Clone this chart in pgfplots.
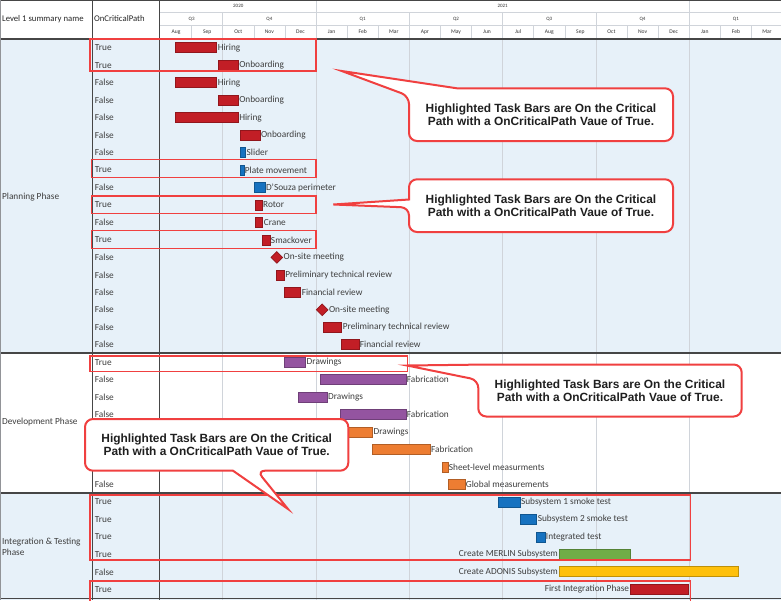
\documentclass[border=0pt]{standalone}
\usepackage{pgfplots}
\pgfplotsset{compat=1.18}
\usepackage{pgfplotstable}
\usepackage{fontspec}
\setmainfont{Carlito}
\newfontfamily\calloutfont{Liberation Sans}

\definecolor{rowblue}{RGB}{231,241,249}
\definecolor{gridgray}{RGB}{208,212,218}
\definecolor{rulegray}{RGB}{70,70,70}
\definecolor{labelgray}{RGB}{62,62,62}
\definecolor{taskred}{RGB}{194,30,38}
\definecolor{taskblue}{RGB}{22,114,192}
\definecolor{taskpurple}{RGB}{148,84,160}
\definecolor{taskorange}{RGB}{237,125,50}
\definecolor{taskgreen}{RGB}{112,173,71}
\definecolor{taskgold}{RGB}{254,192,12}
\definecolor{critred}{RGB}{240,64,64}

\newcommand\tasklabelfont{\fontsize{9.3}{11}\selectfont}
\newcommand\headfont{\fontsize{8.7}{10}\selectfont}

% one month of the time axis is 31.1pt wide; a task bar spans its duration
\pgfdeclareplotmark{taskbar}{%
  \pgfpathrectangle{\pgfqpoint{0pt}{-5pt}}{\pgfpoint{\taskdur*31.1pt}{10pt}}%
  \pgfusepathqfillstroke}

\pgfplotsset{
  task bars/.style={scatter, only marks, mark=taskbar,
    visualization depends on={\thisrow{finish}-\thisrow{start} \as \taskdur},
    scatter/use mapped color={draw=#1!75!black, fill=#1, line width=0.7pt}},
  labels after/.style={only marks, mark=none, nodes near coords,
    point meta=explicit symbolic,
    every node near coord/.style={anchor=west, inner sep=0.8pt,
      font=\tasklabelfont, text=labelgray}},
  labels before/.style={only marks, mark=none, nodes near coords,
    point meta=explicit symbolic,
    every node near coord/.style={anchor=east, inner sep=0.8pt,
      font=\tasklabelfont, text=labelgray}},
}

% time in months from 1 Aug 2020, row index from the top
\pgfplotstableread[col sep=comma]{
row,start,finish,label
0,0.47,1.81,Hiring
1,1.86,2.50,Onboarding
2,0.47,1.81,Hiring
3,1.86,2.50,Onboarding
4,0.47,2.50,Hiring
5,2.56,3.20,Onboarding
9,3.04,3.27,Rotor
10,3.04,3.29,Crane
11,3.27,3.52,Smackover
13,3.74,3.98,Preliminary technical review
14,3.97,4.51,Financial review
16,5.22,5.83,Preliminary technical review
17,5.80,6.38,Financial review
}\redtasks

\pgfplotstableread[col sep=comma]{
row,start,finish,label
31,15.10,16.97,First Integration Phase
}\redlate

\pgfplotstableread[col sep=comma]{
row,start,finish,label
6,2.56,2.74,Slider
7,2.56,2.68,Plate movement
8,3.02,3.36,D'Souza perimeter
26,10.86,11.56,Subsystem 1 smoke test
27,11.56,12.10,Subsystem 2 smoke test
28,12.10,12.36,Integrated test
}\bluetasks

\pgfplotstableread[col sep=comma]{
row,start,finish,label
18,3.97,4.67,Drawings
19,5.13,7.89,Fabrication
20,4.43,5.36,Drawings
21,5.79,7.89,Fabrication
}\purpletasks

\pgfplotstableread[col sep=comma]{
row,start,finish,label
22,5.93,6.82,Drawings
23,6.82,8.67,Fabrication
24,9.07,9.24,Sheet-level measurments
25,9.25,9.79,Global measurements
}\orangetasks

\pgfplotstableread[col sep=comma]{
row,start,finish,label
29,12.81,15.12,Create MERLIN Subsystem
}\greentasks

\pgfplotstableread[col sep=comma]{
row,start,finish,label
30,12.81,18.58,Create ADONIS Subsystem
}\goldtasks

\pgfplotstableread[col sep=comma]{
row,at,label
12,3.74,On-site meeting
15,5.20,On-site meeting
}\milestones

\pgfplotstableread[col sep=comma]{
row,val
0,True
1,True
2,False
3,False
4,False
5,False
6,False
7,True
8,False
9,True
10,False
11,True
12,False
13,False
14,False
15,False
16,False
17,False
18,True
19,False
20,False
21,False
22,False
23,False
24,False
25,False
26,True
27,True
28,True
29,True
30,False
31,True
}\critical

\begin{document}
\begin{tikzpicture}
\begin{axis}[
  at={(0,0)}, anchor=north west,
  x=31.1pt, y=17.47pt, y dir=reverse,
  xmin=-5.161, xmax=19.952, ymin=-2.732, ymax=31.612,
  enlargelimits=false, hide axis, clip=false,
]
% table background and sections
\fill[white] (-5.161,-2.732) rectangle (19.952,31.612);
\fill[rowblue] (-5.161,-0.5) rectangle (19.952,17.5);
\fill[rowblue] (-5.161,25.5) rectangle (19.952,31.612);

% timescale grid
\pgfplotsinvokeforeach{2,8,11,14}{
  \draw[gridgray, line width=0.8pt] (#1,-2.017) -- (#1,31.612);}
\pgfplotsinvokeforeach{5,17}{
  \draw[gridgray, line width=0.8pt] (#1,-2.732) -- (#1,31.612);}
\pgfplotsinvokeforeach{1,3,4,6,7,9,10,12,13,15,16,18,19}{
  \draw[gridgray, line width=0.6pt] (#1,-1.273) -- (#1,-0.5);}
\draw[gridgray, line width=0.6pt] (-0.04,-2.017) -- (19.952,-2.017);
\draw[gridgray, line width=0.6pt] (-0.04,-1.273) -- (19.952,-1.273);

% column and section rules
\draw[rulegray, line width=0.9pt] (-2.203,-2.732) -- (-2.203,31.612);
\draw[rulegray, line width=0.9pt] (-0.04,-2.732) -- (-0.04,31.612);
\draw[rulegray, line width=1.6pt] (-5.161,-0.5) -- (19.952,-0.5);
\draw[rulegray, line width=2pt] (-5.161,17.5) -- (19.952,17.5);
\draw[rulegray, line width=2pt] (-5.161,25.5) -- (19.952,25.5);
\draw[rulegray, line width=1.6pt] (-5.161,31.52) -- (19.952,31.52);
\draw[rulegray, line width=1.2pt] (-5.161,-2.70) -- (19.952,-2.70);
\draw[gridgray!70!black, line width=0.8pt] (-5.145,-2.732) -- (-5.145,31.612);

% header text
\node[anchor=west, inner sep=0pt, font=\headfont, text=black!85] at (-5.1,-1.645) {Level 1 summary name};
\node[anchor=west, inner sep=0pt, font=\headfont, text=black!85] at (-2.14,-1.645) {OnCriticalPath};
\begin{scope}[font=\fontsize{5}{6}\selectfont, text=black!80]
\node at (2.5,-2.389) {2020};
\node at (11,-2.389) {2021};
\node at (1,-1.645) {Q3};
\node at (3.5,-1.645) {Q4};
\node at (6.5,-1.645) {Q1};
\node at (9.5,-1.645) {Q2};
\node at (12.5,-1.645) {Q3};
\node at (15.5,-1.645) {Q4};
\node at (18.5,-1.645) {Q1};
\end{scope}
\begin{scope}[font=\fontsize{5.6}{6}\selectfont, text=black!80]
\node at (0.5,-0.9) {Aug};
\node at (1.5,-0.9) {Sep};
\node at (2.5,-0.9) {Oct};
\node at (3.5,-0.9) {Nov};
\node at (4.5,-0.9) {Dec};
\node at (5.5,-0.9) {Jan};
\node at (6.5,-0.9) {Feb};
\node at (7.5,-0.9) {Mar};
\node at (8.5,-0.9) {Apr};
\node at (9.5,-0.9) {May};
\node at (10.5,-0.9) {Jun};
\node at (11.5,-0.9) {Jul};
\node at (12.5,-0.9) {Aug};
\node at (13.5,-0.9) {Sep};
\node at (14.5,-0.9) {Oct};
\node at (15.5,-0.9) {Nov};
\node at (16.5,-0.9) {Dec};
\node at (17.5,-0.9) {Jan};
\node at (18.5,-0.9) {Feb};
\node at (19.5,-0.9) {Mar};
\end{scope}

% phase names
\begin{scope}[font=\tasklabelfont, text=labelgray]
\node[anchor=west, inner sep=0pt] at (-5.1,8.54) {Planning Phase};
\node[anchor=west, inner sep=0pt] at (-5.1,21.42) {Development Phase};
\node[anchor=west, inner sep=0pt, align=left] at (-5.1,28.55) {Integration \& Testing\\Phase};
\end{scope}

% OnCriticalPath column
\addplot [labels after] table [x expr=-2.14, y=row, meta=val] {\critical};

% task bars
\addplot [task bars=taskred] table [x=start, y=row] {\redtasks};
\addplot [task bars=taskred] table [x=start, y=row] {\redlate};
\addplot [task bars=taskblue] table [x=start, y=row] {\bluetasks};
\addplot [task bars=taskpurple] table [x=start, y=row] {\purpletasks};
\addplot [task bars=taskorange] table [x=start, y=row] {\orangetasks};
\addplot [task bars=taskgreen] table [x=start, y=row] {\greentasks};
\addplot [task bars=taskgold] table [x=start, y=row] {\goldtasks};
\addplot [only marks, mark=square*, mark size=4.1pt,
  mark options={rotate=45, fill=taskred, draw=taskred!75!black, line width=0.7pt}]
  table [x=at, y=row] {\milestones};

% task names
\addplot [labels after] table [x=finish, y=row, meta=label] {\redtasks};
\addplot [labels before] table [x=start, y=row, meta=label] {\redlate};
\addplot [labels after] table [x=finish, y=row, meta=label] {\bluetasks};
\addplot [labels after] table [x=finish, y=row, meta=label] {\purpletasks};
\addplot [labels after] table [x=finish, y=row, meta=label] {\orangetasks};
\addplot [labels before] table [x=start, y=row, meta=label] {\greentasks};
\addplot [labels before] table [x=start, y=row, meta=label] {\goldtasks};
\addplot [labels after, every node near coord/.append style={xshift=5.8pt}]
  table [x=at, y=row, meta=label] {\milestones};
\end{axis}

% critical path highlights and callouts, in picture points from the top left
\begin{scope}[x=1pt, y=-1pt]
\begin{scope}[draw=critred, line width=1.6pt]
\draw (90,38.8) rectangle (316,71);
\draw (91.5,159.5) rectangle (316,177.5);
\draw (91.5,196) rectangle (316,213.5);
\draw (91.5,230.5) rectangle (316,248.5);
\draw (90,356) rectangle (407.5,371.5);
\draw (90,495) rectangle (690.5,560);
\draw (90,581) rectangle (690.5,602);
\end{scope}

\tikzset{callout/.style={fill=white, draw=critred, line width=2pt, line join=miter}}
\draw[callout] (541,141) [rounded corners=8pt] -- (409,141) -- (409,96)
  [sharp corners] -- (341.7,71) -- (457,88.3)
  [rounded corners=8pt] -- (673,88.3) -- (673,141) -- cycle;
\draw[callout] (541,232) [rounded corners=8pt] -- (409,232) -- (409,207.5)
  [sharp corners] -- (333.3,204.5) -- (409,199.5)
  [rounded corners=8pt] -- (409,179.3) -- (673,179.3) -- (673,232) -- cycle;
\draw[callout] (610,416.5) [rounded corners=8pt] -- (478.3,416.5) -- (478.3,380)
  [sharp corners] -- (407,365.5) -- (488,364.5)
  [rounded corners=8pt] -- (741.7,364.5) -- (741.7,416.5) -- cycle;
\draw[callout] (85,445) [rounded corners=8pt] -- (85,419) -- (348.3,419)
  -- (348.3,470.7) -- (257,470.7)
  [sharp corners] -- (288,509) -- (233,470.7)
  [rounded corners=8pt] -- (85,470.7) -- cycle;

\begin{scope}[font=\calloutfont\bfseries\fontsize{11.9}{13.4}\selectfont, text=black!88]
\node[align=center] at (541,114.7) {Highlighted Task Bars are On the Critical\\Path with a OnCriticalPath Vaue of True.};
\node[align=center] at (541,205.7) {Highlighted Task Bars are On the Critical\\Path with a OnCriticalPath Vaue of True.};
\node[align=center] at (610,390.5) {Highlighted Task Bars are On the Critical\\Path with a OnCriticalPath Vaue of True.};
\node[align=center] at (216.7,444.9) {Highlighted Task Bars are On the Critical\\Path with a OnCriticalPath Vaue of True.};
\end{scope}
\end{scope}

\pgfresetboundingbox
\path[use as bounding box] (0,0) rectangle (781pt,-600pt);
\end{tikzpicture}
\end{document}
